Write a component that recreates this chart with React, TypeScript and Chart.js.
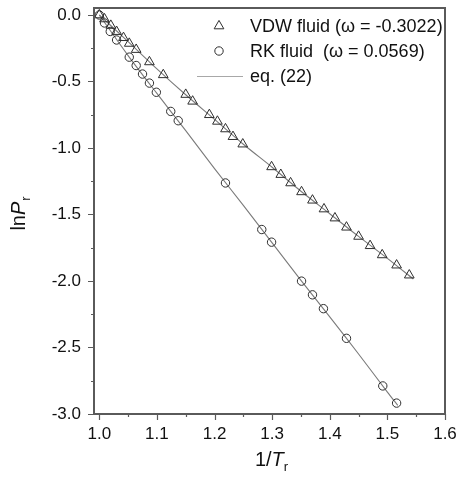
import React, { useEffect, useRef } from 'react';
import { Chart, registerables } from 'chart.js';
import { drawPoint } from 'chart.js/helpers';

Chart.register(...registerables);

// ---- data ----
const vdwX = [1.000, 1.009, 1.020, 1.030, 1.042, 1.052, 1.064, 1.087, 1.111, 1.150, 1.162, 1.191, 1.205, 1.219, 1.232, 1.249, 1.299, 1.315, 1.332, 1.351, 1.370, 1.390, 1.409, 1.429, 1.450, 1.470, 1.491, 1.516, 1.538];
const vdwY = [0.000, -0.030, -0.079, -0.125, -0.171, -0.214, -0.260, -0.353, -0.450, -0.598, -0.649, -0.750, -0.800, -0.857, -0.915, -0.971, -1.142, -1.200, -1.263, -1.330, -1.393, -1.459, -1.527, -1.596, -1.665, -1.735, -1.804, -1.881, -1.956];

const rkX = [1.000, 1.009, 1.019, 1.030, 1.052, 1.064, 1.075, 1.087, 1.099, 1.124, 1.137, 1.219, 1.282, 1.299, 1.351, 1.370, 1.389, 1.429, 1.492, 1.516];
const rkY = [0.000, -0.060, -0.124, -0.188, -0.317, -0.380, -0.444, -0.512, -0.581, -0.725, -0.795, -1.263, -1.613, -1.708, -2.001, -2.104, -2.208, -2.431, -2.789, -2.918];

const fitVdwX = [1.00, 1.05, 1.10, 1.15, 1.20, 1.25, 1.30, 1.35, 1.40, 1.45, 1.50, 1.545];
const fitVdwY = [0.000, -0.200, -0.405, -0.600, -0.785, -0.972, -1.145, -1.325, -1.494, -1.665, -1.830, -1.985];

const fitRkX = [1.00, 1.05, 1.10, 1.15, 1.20, 1.25, 1.30, 1.35, 1.40, 1.45, 1.50, 1.518];
const fitRkY = [0.000, -0.305, -0.590, -0.870, -1.155, -1.432, -1.714, -1.995, -2.270, -2.549, -2.835, -2.935];

const xTickValues = [1.0, 1.1, 1.2, 1.3, 1.4, 1.5, 1.6];
const xMinorValues = [1.05, 1.15, 1.25, 1.35, 1.45, 1.55];
const yTickValues = [0.0, -0.5, -1.0, -1.5, -2.0, -2.5, -3.0];
const yMinorValues = [-0.25, -0.75, -1.25, -1.75, -2.25, -2.75];

const legendLabels = ['VDW fluid (\u03C9 = -0.3022)', 'RK fluid  (\u03C9 = 0.0569)', 'eq. (22)'];

const FONT = "'Liberation Sans', Arial, Helvetica, sans-serif";
const AXIS_COLOR = '#5a5a5a';
const MARK_COLOR = '#2e2e2e';
const LINE_COLOR = '#7a7a7a';

const toPts = (xs: number[], ys: number[]) => xs.map((x, i) => ({ x, y: ys[i] }));

const decorPlugin = {
  id: 'decor',
  afterDraw(chart: any) {
    const { ctx, chartArea: a, scales } = chart;
    const xs = scales.x;
    const ys = scales.y;
    ctx.save();
    // frame
    ctx.strokeStyle = AXIS_COLOR;
    ctx.lineWidth = 2;
    ctx.strokeRect(a.left, a.top, a.right - a.left, a.bottom - a.top);
    // ticks
    ctx.lineWidth = 1.2;
    ctx.beginPath();
    xTickValues.forEach((v) => {
      const p = Math.round(xs.getPixelForValue(v)) + 0.5;
      ctx.moveTo(p, a.bottom); ctx.lineTo(p, a.bottom + 6);
    });
    xMinorValues.forEach((v) => {
      const p = Math.round(xs.getPixelForValue(v)) + 0.5;
      ctx.moveTo(p, a.bottom); ctx.lineTo(p, a.bottom + 3);
    });
    yTickValues.forEach((v) => {
      const p = Math.round(ys.getPixelForValue(v)) + 0.5;
      ctx.moveTo(a.left, p); ctx.lineTo(a.left - 6, p);
    });
    yMinorValues.forEach((v) => {
      const p = Math.round(ys.getPixelForValue(v)) + 0.5;
      ctx.moveTo(a.left, p); ctx.lineTo(a.left - 3, p);
    });
    ctx.stroke();

    // axis titles
    ctx.fillStyle = '#111';
    ctx.textBaseline = 'alphabetic';
    ctx.textAlign = 'left';
    // x title: 1/T_r
    {
      const big = `20px ${FONT}`;
      const bigI = `italic 20px ${FONT}`;
      const small = `13px ${FONT}`;
      ctx.font = big;
      const w1 = ctx.measureText('1/').width;
      ctx.font = bigI;
      const w2 = ctx.measureText('T').width;
      ctx.font = small;
      const w3 = ctx.measureText('r').width;
      const total = w1 + w2 + w3;
      let x0 = (a.left + a.right) / 2 - total / 2 + 2;
      const base = 466;
      ctx.font = big; ctx.fillText('1/', x0, base); x0 += w1;
      ctx.font = bigI; ctx.fillText('T', x0, base); x0 += w2;
      ctx.font = small; ctx.fillText('r', x0, base + 5);
    }
    // y title: lnP_r (rotated)
    {
      const big = `20px ${FONT}`;
      const bigI = `italic 20px ${FONT}`;
      const small = `13px ${FONT}`;
      ctx.save();
      ctx.translate(25, 214);
      ctx.rotate(-Math.PI / 2);
      ctx.font = big;
      const w1 = ctx.measureText('ln').width;
      ctx.font = bigI;
      const w2 = ctx.measureText('P').width;
      ctx.font = small;
      const w3 = ctx.measureText('r').width;
      const total = w1 + w2 + w3;
      let x0 = -total / 2;
      ctx.font = big; ctx.fillText('ln', x0, 0); x0 += w1;
      ctx.font = bigI; ctx.fillText('P', x0, 0); x0 += w2 + 1;
      ctx.font = small; ctx.fillText('r', x0, 5);
      ctx.restore();
    }

    // legend
    const ds = chart.data.datasets;
    const markX = 219;
    const textX = 250;
    const rows = [26, 51, 76];
    ctx.font = `18px ${FONT}`;
    ctx.textBaseline = 'middle';
    ctx.fillStyle = '#111';
    [0, 1].forEach((i) => {
      const d = ds[i];
      ctx.strokeStyle = d.borderColor;
      ctx.fillStyle = 'rgba(0,0,0,0)';
      ctx.lineWidth = d.borderWidth;
      drawPoint(ctx, { pointStyle: d.pointStyle, radius: d.pointRadius, borderWidth: d.borderWidth, rotation: 0 }, markX, rows[i]);
      ctx.fillStyle = '#111';
      ctx.fillText(legendLabels[i], textX, rows[i] + 1);
    });
    ctx.strokeStyle = '#a8a8a8';
    ctx.lineWidth = 1.2;
    ctx.beginPath();
    ctx.moveTo(197, rows[2] + 0.5);
    ctx.lineTo(243, rows[2] + 0.5);
    ctx.stroke();
    ctx.fillStyle = '#111';
    ctx.fillText(legendLabels[2], textX, rows[2] + 1);

    ctx.restore();
  },
};

export default function App() {
  const canvasRef = useRef<HTMLCanvasElement | null>(null);

  useEffect(() => {
    const canvas = canvasRef.current;
    if (!canvas) return;
    const chart = new Chart(canvas, {
      type: 'scatter',
      data: {
        datasets: [
          {
            label: legendLabels[0],
            data: toPts(vdwX, vdwY),
            pointStyle: 'triangle',
            pointRadius: 5.6,
            pointBackgroundColor: 'rgba(0,0,0,0)',
            borderColor: MARK_COLOR,
            pointBorderColor: MARK_COLOR,
            borderWidth: 1,
            pointBorderWidth: 1,
            showLine: false,
            order: 1,
          },
          {
            label: legendLabels[1],
            data: toPts(rkX, rkY),
            pointStyle: 'circle',
            pointRadius: 4.2,
            pointBackgroundColor: 'rgba(0,0,0,0)',
            borderColor: MARK_COLOR,
            pointBorderColor: MARK_COLOR,
            borderWidth: 1,
            pointBorderWidth: 1,
            showLine: false,
            order: 1,
          },
          {
            label: legendLabels[2],
            data: toPts(fitVdwX, fitVdwY),
            showLine: true,
            pointRadius: 0,
            borderColor: LINE_COLOR,
            borderWidth: 1.1,
            tension: 0.3,
            order: 2,
          },
          {
            label: legendLabels[2] + ' RK',
            data: toPts(fitRkX, fitRkY),
            showLine: true,
            pointRadius: 0,
            borderColor: LINE_COLOR,
            borderWidth: 1.1,
            tension: 0.3,
            order: 2,
          },
        ],
      },
      options: {
        responsive: false,
        animation: false,
        events: [],
        layout: { padding: { top: 8, right: 16, left: 0, bottom: 0 } },
        plugins: {
          legend: { display: false },
          tooltip: { enabled: false },
          title: { display: false },
        },
        scales: {
          x: {
            type: 'linear',
            min: 0.9908,
            max: 1.6,
            grid: { display: false, drawTicks: false },
            border: { display: false },
            ticks: {
              padding: 10,
              color: '#111',
              font: { size: 17, family: FONT },
              maxRotation: 0,
              autoSkip: false,
              callback: (v: any) => Number(v).toFixed(1),
            },
            afterBuildTicks: (s: any) => {
              s.ticks = xTickValues.map((value) => ({ value }));
            },
            afterFit: (s: any) => {
              s.height = 65;
              s.paddingLeft = 0; s.paddingRight = 0;
            },
          },
          y: {
            type: 'linear',
            min: -3.0,
            max: 0.0525,
            grid: { display: false, drawTicks: false },
            border: { display: false },
            ticks: {
              padding: 13,
              color: '#111',
              font: { size: 17, family: FONT },
              autoSkip: false,
              callback: (v: any) => Number(v).toFixed(1),
            },
            afterBuildTicks: (s: any) => {
              s.ticks = yTickValues.map((value) => ({ value }));
            },
            afterFit: (s: any) => {
              s.width = 94;
              s.paddingTop = 0; s.paddingBottom = 0;
            },
          },
        },
      },
      plugins: [decorPlugin],
    });
    return () => chart.destroy();
  }, []);

  return (
    <div style={{ position: 'absolute', left: 0, top: 0, width: 461, height: 479, background: '#fff' }}>
      <canvas ref={canvasRef} width={461} height={479} style={{ display: 'block', width: 461, height: 479 }} />
    </div>
  );
}
